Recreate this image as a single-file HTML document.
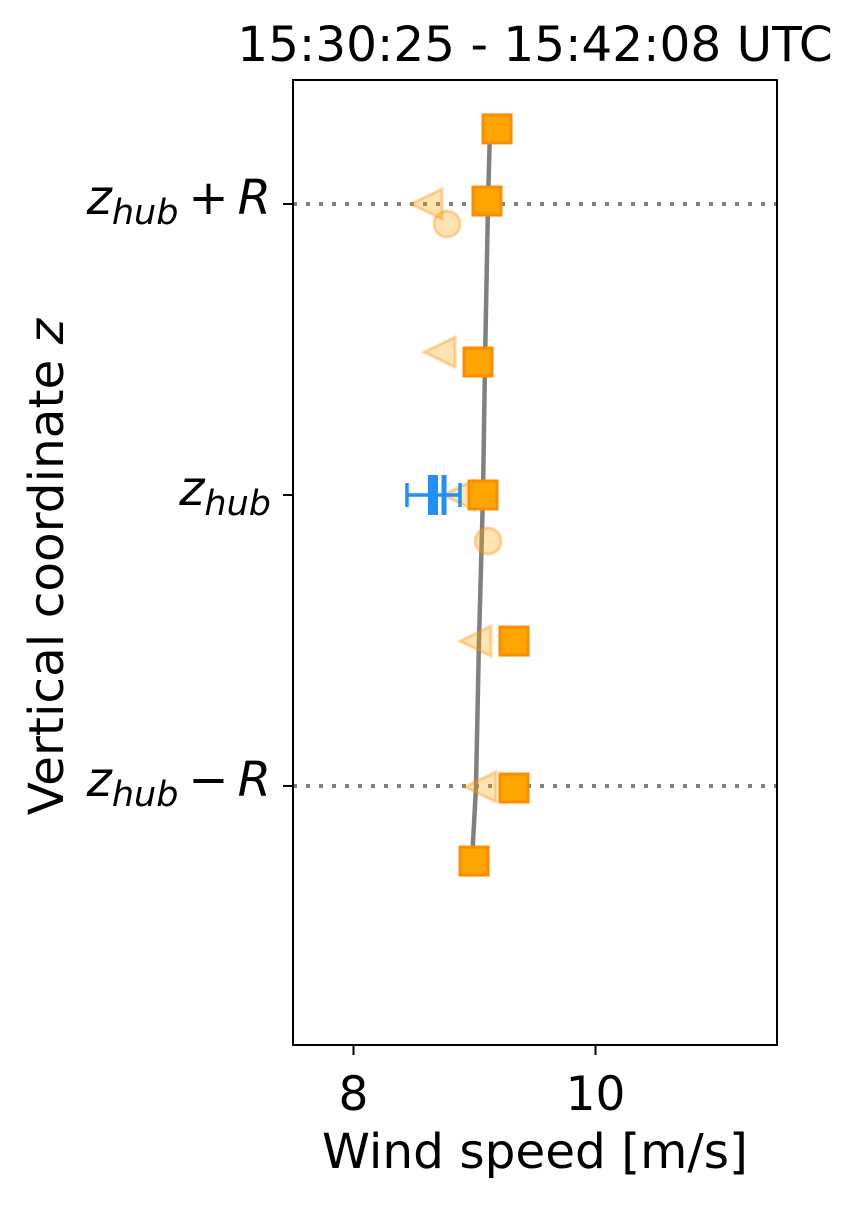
<!DOCTYPE html>
<html><head><meta charset="utf-8"><style>
body{margin:0;background:#fff;}
svg text{font-family:"DejaVu Sans","Liberation Sans",sans-serif;fill:#000;}
</style></head><body>
<svg id="chart" width="858" height="1202" viewBox="0 0 858 1202" xmlns="http://www.w3.org/2000/svg">
<text x="535" y="61" font-size="48.5" text-anchor="middle">15:30:25 - 15:42:08 UTC</text>
<g id="plot"></g>
<rect x="293" y="80" width="484" height="965" fill="none" stroke="#000" stroke-width="2"/>
<text x="535" y="1168" font-size="48.5" text-anchor="middle">Wind speed [m/s]</text>
<text transform="translate(63,567) rotate(-90)" font-size="48.5" text-anchor="middle">Vertical coordinate <tspan font-style="italic">z</tspan></text>
</svg>
<script>
const xTicks=[8,10];
const yTickVals=[1,0,-1];
const yTickLabels=["+","","−"];
const sqZ=[1.258,1.010,0.457,0,-0.502,-1.007,-1.258];
const sqU=[9.186,9.103,9.029,9.070,9.326,9.326,8.996];
const lineU=[9.128,9.112,9.087,9.070,9.037,9.012,8.979];
const triZ=[1.0,0.491,0,-0.502,-1.003];
const triU=[8.632,8.740,8.897,9.037,9.078];
const cirZ=[0.931,-0.158];
const cirU=[8.773,9.112];
const errLo=[8.442], errHi=[8.880], errZ=[0], errBars=[8.657,8.748];

const NS="http://www.w3.org/2000/svg";
const X0=293,X1=777,Y0=80,Y1=1045,xmin=7.5,xmax=11.5,zmin=-1.89,zmax=1.426;
const sx=v=>X0+(v-xmin)/(xmax-xmin)*(X1-X0);
const sy=v=>Y1-(v-zmin)/(zmax-zmin)*(Y1-Y0);
const g=document.getElementById('plot');
const svg=document.getElementById('chart');
function mk(t,a,p){const e=document.createElementNS(NS,t);for(const k in a)e.setAttribute(k,a[k]);(p||g).appendChild(e);return e;}

[1,-1].forEach(v=>{
 const l=mk('line',{x1:X0,x2:X1,y1:sy(v),y2:sy(v),stroke:'#808080','stroke-width':4,'stroke-dasharray':'4,9'});
 
 
});
xTicks.forEach(v=>{
 const t=mk('line',{x1:sx(v),x2:sx(v),y1:Y1,y2:Y1+10,stroke:'#000','stroke-width':2},svg);
 
 
 const tx=mk('text',{x:sx(v),y:Y1+65,'font-size':47,'text-anchor':'middle'},svg);
 tx.textContent=v;
 
 
});
yTickVals.forEach((v,i)=>{
 const t=mk('line',{x1:X0-10,x2:X0,y1:sy(v),y2:sy(v),stroke:'#000','stroke-width':2},svg);
 
 
 const tx=mk('text',{x:X0-22,y:sy(v)+10,'font-size':48,'text-anchor':'end'},svg);
 let h='<tspan font-style="italic">z</tspan><tspan font-style="italic" font-size="35" dy="10">hub</tspan>';
 if(yTickLabels[i]) h+='<tspan dy="-10" dx="10">'+yTickLabels[i]+'</tspan><tspan font-style="italic" dx="9">R</tspan>';
 tx.innerHTML=h;
 
 
});
const pl=mk('polyline',{points:lineU.map((u,i)=>sx(u)+','+sy(sqZ[i])).join(' '),fill:'none',stroke:'#808080','stroke-width':4.5});


cirU.forEach((u,i)=>{
 const c=mk('circle',{cx:sx(u),cy:sy(cirZ[i]),r:13,fill:'rgba(255,165,0,0.3)',stroke:'rgba(255,140,0,0.35)','stroke-width':3});
 
 
});
triU.forEach((u,i)=>{
 const x=sx(u),y=sy(triZ[i]);
 const p=mk('polygon',{points:`${x-19},${y} ${x+12},${y-15} ${x+12},${y+15}`,fill:'rgba(255,165,0,0.3)',stroke:'rgba(255,140,0,0.35)','stroke-width':3});
 
 
});
errZ.forEach((z,i)=>{
 const y=sy(z),a=sx(errLo[i]),b=sx(errHi[i]);
 const h=mk('line',{x1:a,x2:b,y1:y,y2:y,stroke:'#1e90ff','stroke-width':3.5});
 
 
 [a,b].forEach(x=>{const c=mk('line',{x1:x,x2:x,y1:y-12,y2:y+12,stroke:'#1e90ff','stroke-width':3.5});
  
  });
});
errBars.forEach((u,i)=>{
 const r=mk('rect',{x:sx(u)-(i?2.5:5),y:sy(0)-20,width:i?5:10,height:40,fill:'#1e90ff'});
 
 
});
sqU.forEach((u,i)=>{
 const r=mk('rect',{x:sx(u)-14,y:sy(sqZ[i])-14,width:28,height:28,fill:'#ffa500',stroke:'#ff8c00','stroke-width':3});
 
 
});
</script>
</body></html>
